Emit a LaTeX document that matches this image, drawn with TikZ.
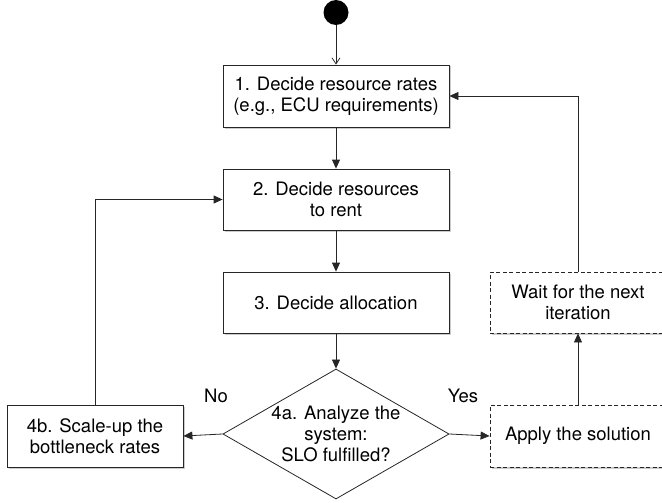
\documentclass[tikz,border=0pt]{standalone}
\usepackage{fontspec}
\setmainfont{TeX Gyre Heros}
\usetikzlibrary{shapes.geometric,arrows.meta,shadows}

\begin{document}
\begin{tikzpicture}[x=1pt,y=-1pt,
  font=\fontsize{18.5}{21}\selectfont,
  stepbox/.style={draw=black!85,line width=0.8pt,fill=white,align=center,
    minimum width=226pt,minimum height=61pt,inner sep=0pt,
    drop shadow={opacity=0.4,shadow xshift=1.5pt,shadow yshift=-1.5pt}},
  sidebox/.style={stepbox,minimum width=176pt,minimum height=62pt},
  waitbox/.style={sidebox,dashed,dash pattern=on 4pt off 2.5pt},
  decision/.style={draw=black!85,line width=0.8pt,fill=white,diamond,align=center,
    minimum width=226pt,minimum height=130pt,inner sep=0pt,aspect=1.74},
  flow/.style={draw=black!85,line width=0.8pt,-{Triangle[length=9pt,width=8pt]}}]
\useasboundingbox (0,0) rectangle (662,503);
\begin{scope}
\clip (0,0) rectangle (662,503);
\node[circle,fill=black,minimum size=25pt,inner sep=0pt] (start) at (336,12.5) {};
\node[stepbox,minimum height=62pt] (rates) at (336,96) {1. Decide resource rates\\(e.g., ECU requirements)};
\node[stepbox] (rent) at (336,199.5) {2. Decide resources\\to rent};
\node[stepbox] (alloc) at (336,302.5) {3. Decide allocation};
\node[decision] (slo) at (336,434) {4a. Analyze the\\system:\\SLO fulfilled?};
\node[sidebox] (scale) at (95,436) {4b. Scale-up the\\bottleneck rates};
\node[waitbox] (apply) at (578,436) {Apply the solution};
\node[waitbox,minimum height=61pt] (wait) at (578,302.5) {Wait for the next\\iteration};
\node (no) at (216,396) {No};
\node (yes) at (463,396) {Yes};

\draw[draw=black!85,line width=0.8pt,-{Straight Barb[length=6pt,width=8pt]}] (start) -- (rates);
\draw[flow] (rates) -- (rent);
\draw[flow] (rent) -- (alloc);
\draw[flow] (alloc) -- (slo);
\draw[flow] (slo.west) -- (scale.east);
\draw[flow] (slo.east) -- (apply.west);
\draw[flow] (apply) -- (wait);
\draw[flow] (wait.north) |- (rates.east);
\draw[flow] (scale.north) |- (rent.west);
\end{scope}
\end{tikzpicture}
\end{document}
